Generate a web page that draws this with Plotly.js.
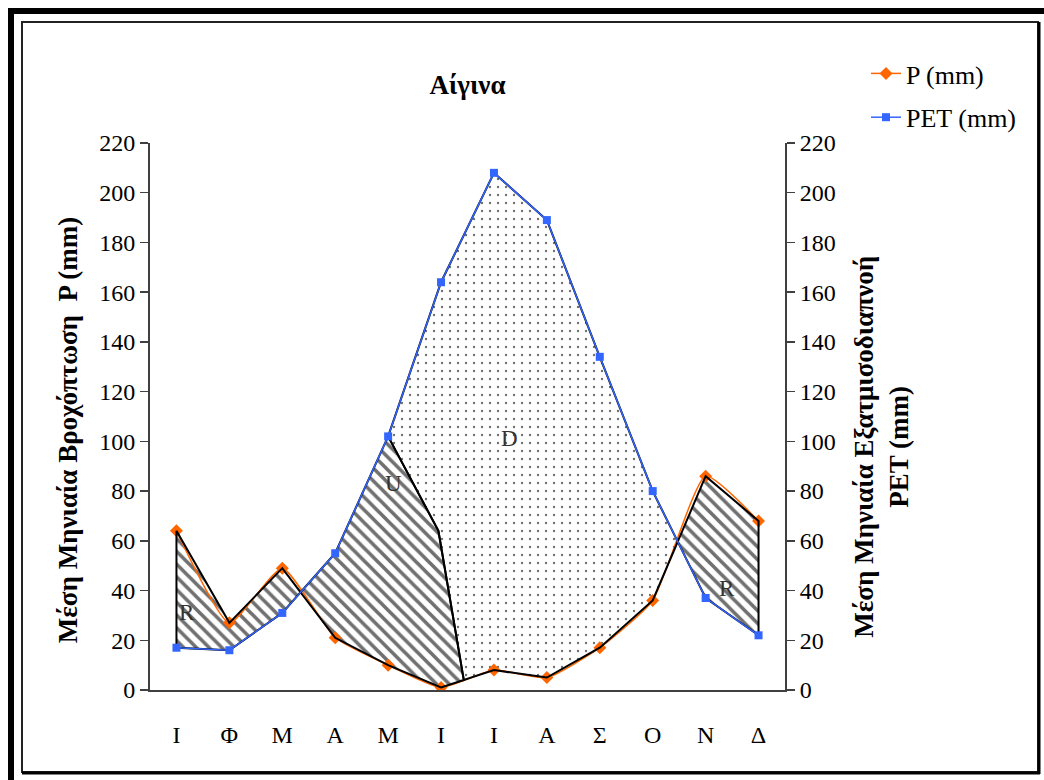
<!DOCTYPE html>
<html>
<head>
<meta charset="utf-8">
<script src="https://cdn.plot.ly/plotly-3.0.1.min.js"></script>
<style>
  html, body { margin: 0; padding: 0; background: #ffffff; }
  #chart { width: 1044px; height: 780px; }
</style>
</head>
<body>
<div id="chart"></div>
<script>
// ---- data ----
const months = ['Ι', 'Φ', 'Μ', 'Α', 'Μ', 'Ι', 'Ι', 'Α', 'Σ', 'Ο', 'Ν', 'Δ'];
const P   = [64, 27, 49, 21, 10, 1, 8, 5, 17, 36, 86, 68];
const PET = [17, 16, 31, 55, 102, 164, 208, 189, 134, 80, 37, 22];
// hand-drawn split between U and D regions (starts at the May PET point)
const dividerStartMonth = 4;
const dividerX = [4.95, 5.43];
const dividerY = [64, 4];
// region labels
const regionNames = ['R', 'U', 'D', 'R'];
const regionX = [0.2, 4.1, 6.3, 10.4];
const regionY = [31, 83, 101, 41];

// ---- geometry helpers ----
const L = 150, R = 785, T = 143, B = 690, W = 1044, H = 780;
const px = v => (v - L) / (R - L);
const py = v => (B - v) / (B - T);

function crossings() {
  const out = [];
  for (let i = 0; i < P.length - 1; i++) {
    const d0 = P[i] - PET[i], d1 = P[i + 1] - PET[i + 1];
    if (d0 * d1 < 0) {
      const t = d0 / (d0 - d1);
      out.push({ i: i, x: i + t, y: P[i] + t * (P[i + 1] - P[i]) });
    }
  }
  return out;
}
const cr = crossings();
const c1 = cr[0], c2 = cr[1];

// R (left): P from Jan to crossing, back along PET
const r1x = [], r1y = [];
for (let i = 0; i <= c1.i; i++) { r1x.push(i); r1y.push(P[i]); }
r1x.push(c1.x); r1y.push(c1.y);
for (let i = c1.i; i >= 0; i--) { r1x.push(i); r1y.push(PET[i]); }
r1x.push(0); r1y.push(P[0]);

// U: crossing -> PET up to divider start -> divider -> back along P
const ux = [c1.x], uy = [c1.y];
for (let i = c1.i + 1; i <= dividerStartMonth; i++) { ux.push(i); uy.push(PET[i]); }
for (let k = 0; k < dividerX.length; k++) { ux.push(dividerX[k]); uy.push(dividerY[k]); }
const dividerEnd = dividerX[dividerX.length - 1];
for (let i = Math.floor(dividerEnd); i > c1.i; i--) { ux.push(i); uy.push(P[i]); }
ux.push(c1.x); uy.push(c1.y);

// D: PET from divider start to crossing 2, back along P, back up the divider
const dx = [], dy = [];
for (let i = dividerStartMonth; i <= c2.i; i++) { dx.push(i); dy.push(PET[i]); }
dx.push(c2.x); dy.push(c2.y);
for (let i = c2.i; i >= Math.ceil(dividerEnd); i--) { dx.push(i); dy.push(P[i]); }
for (let k = dividerX.length - 1; k >= 0; k--) { dx.push(dividerX[k]); dy.push(dividerY[k]); }
dx.push(dividerStartMonth); dy.push(PET[dividerStartMonth]);

// R (right): crossing 2 -> P to Dec -> back along PET
const r2x = [c2.x], r2y = [c2.y];
for (let i = c2.i + 1; i < P.length; i++) { r2x.push(i); r2y.push(P[i]); }
for (let i = P.length - 1; i > c2.i; i--) { r2x.push(i); r2y.push(PET[i]); }
r2x.push(c2.x); r2y.push(c2.y);

const hatch = { shape: '\\', fgcolor: '#707070', bgcolor: '#ffffff', size: 9, solidity: 0.4 };
const dots = { shape: '.', fgcolor: '#707070', bgcolor: '#ffffff', size: 8, solidity: 0.07 };

function regionFill(xs, ys, pattern) {
  return {
    x: xs, y: ys, type: 'scatter', mode: 'lines', fill: 'toself',
    fillcolor: '#ffffff', fillpattern: pattern,
    line: { color: 'rgba(0,0,0,0)', width: 0 }, hoverinfo: 'skip', showlegend: false
  };
}
function regionOutline(xs, ys) {
  return {
    x: xs, y: ys, type: 'scatter', mode: 'lines',
    line: { color: '#000000', width: 2 }, hoverinfo: 'skip', showlegend: false
  };
}

const monthsIdx = months.map((m, i) => i);

const traces = [
  regionFill(dx, dy, dots),
  regionFill(r1x, r1y, hatch),
  regionFill(ux, uy, hatch),
  regionFill(r2x, r2y, hatch),
  {
    x: monthsIdx, y: P, name: 'P (mm)', type: 'scatter', mode: 'lines+markers',
    line: { color: '#ff6600', width: 1.5, shape: 'spline', smoothing: 0.5 },
    marker: { symbol: 'diamond', size: 10, color: '#ff6600' },
    legendgroup: 'p'
  },
  {
    x: monthsIdx, y: PET, name: 'PET (mm)', type: 'scatter', mode: 'lines+markers',
    yaxis: 'y2',
    line: { color: '#3366ff', width: 1.5 },
    marker: { symbol: 'square', size: 8, color: '#3366ff' },
    legendgroup: 'pet'
  },
  regionOutline(dx, dy),
  regionOutline(r1x, r1y),
  regionOutline(ux, uy),
  regionOutline(r2x, r2y)
];

const serif = 'Liberation Serif';

const annotations = regionNames.map((t, k) => ({
  x: regionX[k], y: regionY[k], xref: 'x', yref: 'y', text: t, showarrow: false,
  font: { family: serif, size: 23, color: '#333333' }
}));

const shapes = [
  { type: 'rect', xref: 'paper', yref: 'paper', x0: px(11), x1: px(1070), y0: py(11), y1: py(800),
    line: { color: '#000000', width: 6 }, fillcolor: 'rgba(0,0,0,0)' },
  { type: 'rect', xref: 'paper', yref: 'paper', x0: px(22), x1: px(1038), y0: py(22), y1: py(772),
    line: { color: '#222222', width: 2 }, fillcolor: 'rgba(0,0,0,0)' },
  { type: 'line', xref: 'paper', yref: 'paper', x0: px(1039), x1: px(1039), y0: py(22), y1: py(774),
    line: { color: '#000000', width: 3 } },
  { type: 'line', xref: 'paper', yref: 'paper', x0: px(22), x1: px(1040), y0: py(773), y1: py(773),
    line: { color: '#000000', width: 3 } }
];

const sp = n => '&nbsp;'.repeat(n);

const layout = {
  width: W, height: H,
  margin: { l: L, r: W - R, t: T, b: H - B, pad: 0 },
  paper_bgcolor: '#ffffff', plot_bgcolor: '#ffffff',
  font: { family: serif, color: '#000000', size: 24 },
  title: {
    text: '<b>Αίγινα</b>', font: { family: serif, size: 27, color: '#000000' },
    x: px((L + R) / 2), xanchor: 'center', xref: 'paper',
    y: 1 - 85 / H, yanchor: 'middle', yref: 'container'
  },
  showlegend: true,
  legend: {
    x: px(866), y: py(50), xanchor: 'left', yanchor: 'top',
    font: { family: serif, size: 26, color: '#000000' },
    bgcolor: 'rgba(0,0,0,0)', traceorder: 'grouped', tracegroupgap: 7
  },
  xaxis: {
    range: [-0.5, 11.5], tickvals: monthsIdx, ticktext: months,
    showgrid: false, zeroline: false, showline: true, linecolor: '#404040', linewidth: 2,
    ticks: '', ticklabelstandoff: 22,
    tickfont: { family: serif, size: 24, color: '#000000' }, fixedrange: true
  },
  yaxis: {
    range: [0, 220], dtick: 20, tick0: 0,
    showgrid: false, zeroline: false, showline: true, linecolor: '#404040', linewidth: 2,
    ticks: 'outside', ticklen: 8, tickcolor: '#404040', tickwidth: 1.5,
    tickfont: { family: serif, size: 24, color: '#000000' },
    title: { text: '<b>Μέση Μηνιαία Βροχόπτωση  P (mm)</b>' + sp(4), font: { family: serif, size: 27, color: '#000000' }, standoff: 14 }
  },
  yaxis2: {
    range: [0, 220], dtick: 20, tick0: 0, overlaying: 'y', side: 'right',
    showgrid: false, zeroline: false, showline: true, linecolor: '#404040', linewidth: 2,
    ticks: 'outside', ticklen: 8, tickcolor: '#404040', tickwidth: 1.5,
    tickfont: { family: serif, size: 24, color: '#000000' },
    title: { text: '<b>Μέση Μηνιαία Εξατμισοδιαπνοή</b>' + sp(9) + '<br><b>PET (mm)</b>' + sp(9), font: { family: serif, size: 27, color: '#000000' }, standoff: 19 }
  },
  annotations: annotations,
  shapes: shapes
};

Plotly.newPlot('chart', traces, layout, { displayModeBar: false, staticPlot: true });
</script>
</body>
</html>
